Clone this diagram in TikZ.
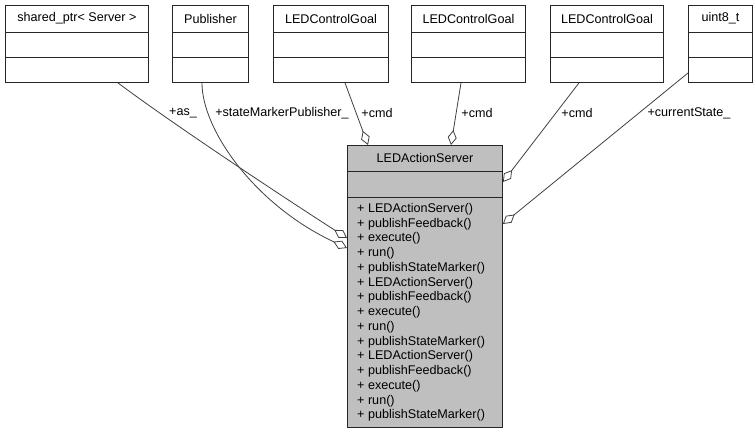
\documentclass[tikz,border=0pt]{standalone}
\usepackage{fontspec}
\setmainfont{Liberation Sans}
\usetikzlibrary{arrows.meta,calc}
\definecolor{edgegray}{HTML}{404040}
\definecolor{boxgray}{HTML}{BFBFBF}
\begin{document}
\begin{tikzpicture}[x=1pt,y=-1pt,
  font=\fontsize{12.6}{14.75}\selectfont,
  clsbox/.style={draw=black!85, line width=0.9pt, rectangle, inner sep=0pt, anchor=north west},
  divline/.style={draw=black!85, line width=0.9pt},
  ttl/.style={inner sep=0pt, anchor=center},
  conn/.style={draw=edgegray, line width=0.8pt, arrows={-Diamond[open, length=15pt, width=9pt]}},
  lbl/.style={inner sep=0pt, anchor=center}]
\useasboundingbox (0,0) rectangle (755,433);
% top classes
\node[clsbox, minimum width=143pt, minimum height=77pt] (sp) at (5,5) {};
\node[clsbox, minimum width=76pt, minimum height=77pt] (pub) at (172,5) {};
\node[clsbox, minimum width=115pt, minimum height=77pt] (g1) at (273,5) {};
\node[clsbox, minimum width=114pt, minimum height=77pt] (g2) at (411,5) {};
\node[clsbox, minimum width=113pt, minimum height=77pt] (g3) at (550,5) {};
\node[clsbox, minimum width=64pt, minimum height=77pt] (u8) at (688,5) {};
\foreach \b in {sp,pub,g1,g2,g3,u8}{
  \draw[divline] ($(\b.north west)+(0,27)$) -- ($(\b.north east)+(0,27)$);
  \draw[divline] ($(\b.north west)+(0,52)$) -- ($(\b.north east)+(0,52)$);
}
\node[ttl] (tsp) at ($(sp.north)+(0,13.5)$) {shared\_ptr< Server >};
\node[ttl] (tpub) at ($(pub.north)+(0,13.5)$) {Publisher};
\node[ttl] (tg1) at ($(g1.north)+(0,13.5)$) {LEDControlGoal};
\node[ttl] (tg2) at ($(g2.north)+(0,13.5)$) {LEDControlGoal};
\node[ttl] (tg3) at ($(g3.north)+(0,13.5)$) {LEDControlGoal};
\node[ttl] (tu8) at ($(u8.north)+(0,13.5)$) {uint8\_t};
% main class
\node[clsbox, fill=boxgray, minimum width=155pt, minimum height=282pt] (main) at (347,145) {};
\draw[divline] ($(main.north west)+(0,26)$) -- ($(main.north east)+(0,26)$);
\draw[divline] ($(main.north west)+(0,52)$) -- ($(main.north east)+(0,52)$);
\node[ttl] (tmain) at ($(main.north)+(0,13)$) {LEDActionServer};
\node[inner sep=0pt, anchor=north west, align=left] (meth) at ($(main.north west)+(10,58)$) {%
+ LEDActionServer()\\
+ publishFeedback()\\
+ execute()\\
+ run()\\
+ publishStateMarker()\\
+ LEDActionServer()\\
+ publishFeedback()\\
+ execute()\\
+ run()\\
+ publishStateMarker()\\
+ LEDActionServer()\\
+ publishFeedback()\\
+ execute()\\
+ run()\\
+ publishStateMarker()};
% connectors
\draw[conn] ($(sp.south west)+(113,0)$) .. controls (170,122) and (280,195) .. ($(main.north west)+(0,93)$);
\draw[conn] ($(pub.south west)+(30,0)$) .. controls (202,130) and (255,205) .. ($(main.north west)+(0,103)$);
\draw[conn] ($(g1.south west)+(72,0)$) -- ($(main.north west)+(21,0)$);
\draw[conn] ($(g2.south west)+(50,0)$) -- ($(main.north west)+(104,0)$);
\draw[conn] ($(g3.south west)+(29,0)$) -- ($(main.north east)+(0,37)$);
\draw[conn] ($(u8.north west)+(0,68)$) -- ($(main.north east)+(0,79)$);
% labels
\node[lbl] (las) at (183,113) {+as\_};
\node[lbl] (lpub) at (282,113) {+stateMarkerPublisher\_};
\node[lbl] (lc1) at (377,113) {+cmd};
\node[lbl] (lc2) at (477,113) {+cmd};
\node[lbl] (lc3) at (577,113) {+cmd};
\node[lbl] (lcs) at (689,113) {+currentState\_};
\end{tikzpicture}
\end{document}
